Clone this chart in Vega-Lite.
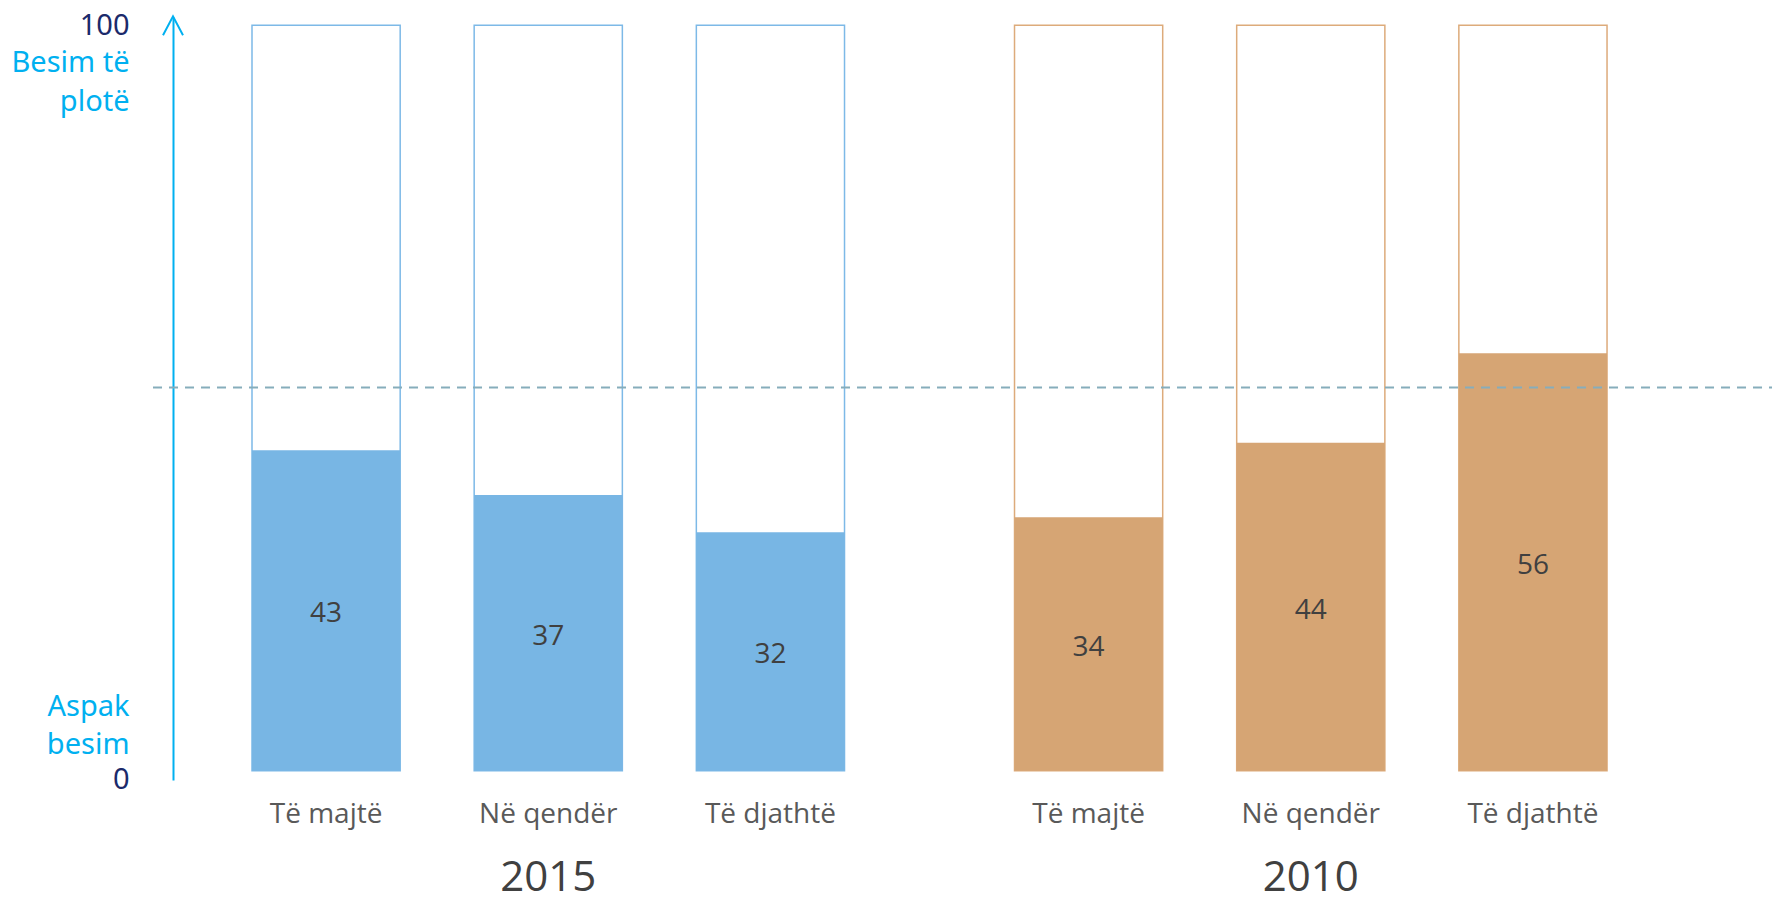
{
  "$schema": "https://vega.github.io/schema/vega-lite/v6.json",
  "autosize": {"type": "none"},
  "padding": {"left": 173, "top": 17, "right": 0, "bottom": 117},
  "width": 1599,
  "height": 763,
  "background": "white",
  "config": {"view": {"stroke": null}, "font": "Open Sans"},
  "datasets": {
    "bars": [
      {"year": "2015", "party": "Të majtë", "value": 43},
      {"year": "2015", "party": "Në qendër", "value": 37},
      {"year": "2015", "party": "Të djathtë", "value": 32},
      {"year": "2010", "party": "Të majtë", "value": 34},
      {"year": "2010", "party": "Në qendër", "value": 44},
      {"year": "2010", "party": "Të djathtë", "value": 56}
    ],
    "ref": [{"level": 51.4}]
  },
  "resolve": {"scale": {"x": "independent"}},
  "layer": [
    {
      "data": {"name": "bars"},
      "transform": [{"calculate": "datum.value / 2", "as": "mid"}, {"calculate": "100", "as": "full"}],
      "layer": [
        {
          "mark": {"type": "bar", "fill": "white", "strokeWidth": 1.5},
          "encoding": {
            "x": {"field": "year", "type": "nominal", "sort": ["2015", "2010"],
              "scale": {"paddingInner": 0.1258, "paddingOuter": 0.1114, "align": 0.247},
              "axis": {"title": null, "domain": false, "ticks": false, "tickSize": 0, "labelAngle": 0,
                "labelFont": "Open Sans", "labelFontSize": 42, "labelColor": "#404040",
                "labelPadding": 97, "labelBaseline": "middle"}},
            "xOffset": {"field": "party", "type": "nominal", "sort": ["Të majtë", "Në qendër", "Të djathtë"],
              "scale": {"paddingInner": 0.333, "paddingOuter": 0.1667}},
            "y": {"field": "full", "type": "quantitative",
              "scale": {"domain": [-1.25, 101.11], "nice": false, "zero": false},
              "axis": {"title": null, "orient": "left", "grid": false, "values": [100, 95, 89.8, 8.6, 3.5, -1.2],
                "labelExpr": "datum.value > 99 ? '100' : datum.value > 94 ? 'Besim të' : datum.value > 80 ? 'plotë' : datum.value > 5 ? 'Aspak' : datum.value > 0 ? 'besim' : '0'",
                "labelColor": {"condition": {"test": "datum.value > 99 || datum.value < 0", "value": "#1b2a6b"}, "value": "#00b0f0"},
                "labelFont": "Noto Sans", "labelFontSize": 29, "labelPadding": 44,
                "ticks": false, "tickSize": 0, "domain": true, "domainColor": "#00b0f0", "domainWidth": 2,
                "labelOverlap": false, "labelFlush": false, "labelBaseline": "middle"}},
            "y2": {"datum": 0},
            "stroke": {"field": "year", "type": "nominal",
              "scale": {"domain": ["2015", "2010"], "range": ["#7db9e7", "#ddab7b"]}, "legend": null}
          }
        },
        {
          "mark": {"type": "bar"},
          "encoding": {
            "x": {"field": "year", "type": "nominal", "sort": ["2015", "2010"]},
            "xOffset": {"field": "party", "type": "nominal", "sort": ["Të majtë", "Në qendër", "Të djathtë"]},
            "y": {"field": "value", "type": "quantitative", "scale": {"domain": [-1.25, 101.11], "nice": false, "zero": false}},
            "y2": {"datum": 0},
            "fill": {"field": "year", "type": "nominal",
              "scale": {"domain": ["2015", "2010"], "range": ["#78b6e4", "#d6a574"]}, "legend": null}
          }
        },
        {
          "mark": {"type": "text", "font": "Open Sans", "fontSize": 28, "color": "#404040", "baseline": "middle", "dy": 4},
          "encoding": {
            "x": {"field": "year", "type": "nominal", "sort": ["2015", "2010"]},
            "xOffset": {"field": "party", "type": "nominal", "sort": ["Të majtë", "Në qendër", "Të djathtë"]},
            "y": {"field": "mid", "type": "quantitative", "scale": {"domain": [-1.25, 101.11], "nice": false, "zero": false}},
            "text": {"field": "value", "type": "quantitative"}
          }
        },
        {
          "mark": {"type": "text", "font": "Open Sans", "fontSize": 28, "color": "#595959", "baseline": "middle"},
          "encoding": {
            "x": {"field": "year", "type": "nominal", "sort": ["2015", "2010"]},
            "xOffset": {"field": "party", "type": "nominal", "sort": ["Të majtë", "Në qendër", "Të djathtë"]},
            "y": {"datum": -5.95, "type": "quantitative", "scale": {"domain": [-1.25, 101.11], "nice": false, "zero": false}},
            "text": {"field": "party", "type": "nominal"}
          }
        }
      ]
    },
    {
      "data": {"name": "ref"},
      "mark": {"type": "rule", "color": "#86adbb", "strokeWidth": 2, "strokeDash": [9, 7]},
      "encoding": {
        "x": {"datum": -0.0125, "type": "quantitative", "scale": {"domain": [0, 1], "nice": false, "zero": false}, "axis": null},
        "x2": {"datum": 1},
        "y": {"field": "level", "type": "quantitative", "scale": {"domain": [-1.25, 101.11], "nice": false, "zero": false}}
      }
    },
    {
      "data": {"values": [{"tip": 101.2}]},
      "mark": {"type": "point", "shape": "M-1,1.9L0,0L1,1.9", "size": 400, "filled": false, "stroke": "#00b0f0", "strokeWidth": 2, "opacity": 1},
      "encoding": {
        "x": {"datum": 0, "type": "quantitative", "scale": {"domain": [0, 1], "nice": false, "zero": false}, "axis": null},
        "y": {"field": "tip", "type": "quantitative", "scale": {"domain": [-1.25, 101.11], "nice": false, "zero": false}}
      }
    }
  ]
}
